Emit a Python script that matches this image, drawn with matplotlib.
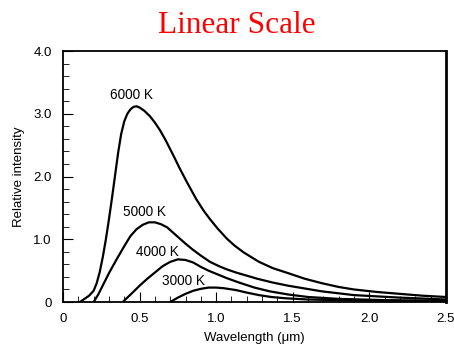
import matplotlib
matplotlib.use('Agg')
import matplotlib.pyplot as plt
from matplotlib.ticker import MultipleLocator


# ----------- DATA -----------------------------------

wl_6000 = [0.11, 0.14, 0.17, 0.20, 0.22, 0.24, 0.26, 0.28, 0.30, 0.32, 0.34, 0.36,
           0.38, 0.40, 0.42, 0.44, 0.46, 0.48, 0.50, 0.53, 0.568, 0.60, 0.633, 0.67,
           0.72, 0.76, 0.807, 0.87, 0.92, 0.96, 1.01, 1.07, 1.12, 1.18, 1.28, 1.37,
           1.47, 1.58, 1.69, 1.80, 1.90, 2.05, 2.2, 2.35, 2.5]
int_6000 = [0.0, 0.05, 0.10, 0.18, 0.30, 0.48, 0.72, 1.00, 1.32, 1.66, 2.02, 2.38,
            2.68, 2.88, 3.00, 3.07, 3.11, 3.12, 3.10, 3.05, 2.96, 2.86, 2.74, 2.58,
            2.34, 2.14, 1.92, 1.64, 1.45, 1.32, 1.17, 1.01, 0.90, 0.79, 0.64, 0.54,
            0.46, 0.37, 0.30, 0.24, 0.20, 0.16, 0.13, 0.10, 0.08]

wl_5000 = [0.20, 0.23, 0.263, 0.30, 0.35, 0.40, 0.44, 0.48, 0.52, 0.56, 0.60, 0.64,
           0.68, 0.74, 0.80, 0.85, 0.90, 0.96, 1.02, 1.07, 1.13, 1.20, 1.27, 1.37,
           1.47, 1.69, 1.90, 2.2, 2.5]
int_5000 = [0.0, 0.12, 0.28, 0.46, 0.68, 0.89, 1.05, 1.16, 1.23, 1.27, 1.27, 1.24,
            1.19, 1.06, 0.93, 0.83, 0.74, 0.64, 0.57, 0.52, 0.47, 0.42, 0.37, 0.31,
            0.26, 0.17, 0.11, 0.07, 0.04]

wl_4000 = [0.39, 0.45, 0.50, 0.55, 0.60, 0.65, 0.70, 0.75, 0.80, 0.85, 0.90, 0.95,
           1.0, 1.07, 1.15, 1.25, 1.35, 1.47, 1.6, 1.8, 2.1, 2.5]
int_4000 = [0.0, 0.14, 0.26, 0.37, 0.47, 0.57, 0.64, 0.68, 0.67, 0.63, 0.56, 0.50,
            0.45, 0.38, 0.31, 0.23, 0.17, 0.12, 0.08, 0.05, 0.03, 0.02]

wl_3000 = [0.70, 0.75, 0.80, 0.851, 0.90, 0.95, 1.00, 1.05, 1.13, 1.2, 1.28, 1.36,
           1.45, 1.6, 1.8, 2.1, 2.5]
int_3000 = [0.0, 0.07, 0.13, 0.18, 0.21, 0.23, 0.23, 0.22, 0.19, 0.15, 0.11, 0.08,
            0.06, 0.04, 0.03, 0.02, 0.01]

curves = [(wl_6000, int_6000), (wl_5000, int_5000), (wl_4000, int_4000), (wl_3000, int_3000)]
labels = ['6000 K', '5000 K', '4000 K', '3000 K']
label_pos = [(0.445, 3.30), (0.533, 1.43), (0.618, 0.79), (0.789, 0.335)]

x_ticks = [0, 0.5, 1.0, 1.5, 2.0, 2.5]
x_tick_labels = ['0', '0.5', '1.0', '1.5', '2.0', '2.5']
y_ticks = [0, 1.0, 2.0, 3.0, 4.0]
y_tick_labels = ['0', '1.0', '2.0', '3.0', '4.0']


# ----------- PLOT ------------

plt.rcParams['font.family'] = ['Liberation Sans', 'DejaVu Sans']

fig = plt.figure(figsize=(4.54, 3.45), dpi=100)
ax = fig.add_axes([0.1388, 0.1246, 0.8432, 0.7274])

for (wl, inten) in curves:
    ax.plot(wl, inten, color='black', linewidth=1.6, solid_capstyle='round',
            solid_joinstyle='round')

for text, (x, y) in zip(labels, label_pos):
    ax.text(x, y, text, ha='center', va='center', fontsize=9.8)

ax.set_xlim(0, 2.5)
ax.set_ylim(0, 4.0)
ax.set_xticks(x_ticks)
ax.set_xticklabels(x_tick_labels)
ax.set_yticks(y_ticks)
ax.set_yticklabels(y_tick_labels)
ax.xaxis.set_minor_locator(MultipleLocator(0.1))
ax.yaxis.set_minor_locator(MultipleLocator(0.2))
ax.tick_params(which='major', direction='in', length=7, width=0.8, labelsize=9.5, pad=8)
ax.tick_params(which='minor', direction='in', length=4, width=0.6)

for side in ['left', 'bottom', 'top']:
    ax.spines[side].set_linewidth(1.3)
ax.spines['right'].set_linewidth(2.0)

ax.set_xlabel('Wavelength (\u03bcm)', fontsize=9.5, labelpad=5)
ax.set_ylabel('Relative intensity', fontsize=9.5, labelpad=6)

fig.text(0.522, 0.926, 'Linear Scale', color='red', fontsize=22.5,
         family='Liberation Serif', ha='center', va='center')

fig.savefig('out.png', dpi=100)
